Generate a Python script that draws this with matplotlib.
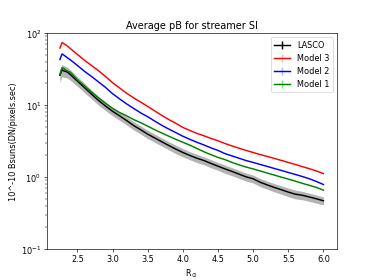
import numpy as np
import matplotlib.pyplot as plt

# radial distance (R_sun)
r = [2.25, 2.28, 2.30, 2.35, 2.40, 2.50, 2.60, 2.70, 2.80, 2.90,
     3.00, 3.10, 3.20, 3.30, 3.40, 3.50, 3.60, 3.70, 3.80, 3.90,
     4.00, 4.10, 4.20, 4.30, 4.40, 4.50, 4.60, 4.70, 4.80, 4.90,
     5.00, 5.10, 5.20, 5.30, 5.40, 5.50, 5.60, 5.70, 5.80, 5.90, 6.00]

lasco = [26, 31, 30, 29, 26.5, 21.5, 17.5, 14.2, 11.6, 9.7,
         8.2, 7.1, 6.1, 5.2, 4.55, 3.95, 3.5, 3.1, 2.75, 2.45,
         2.2, 2.0, 1.83, 1.7, 1.55, 1.42, 1.3, 1.2, 1.1, 1.01,
         0.95, 0.85, 0.78, 0.72, 0.67, 0.62, 0.58, 0.56, 0.53, 0.50, 0.47]
lasco_err = [5.5, 6.0, 5.6, 5.0, 4.4, 3.3, 2.6, 2.0, 1.6, 1.3,
             1.1, 0.95, 0.8, 0.68, 0.6, 0.52, 0.46, 0.4, 0.36, 0.33,
             0.29, 0.26, 0.24, 0.22, 0.2, 0.18, 0.17, 0.155, 0.14, 0.13,
             0.12, 0.11, 0.1, 0.095, 0.09, 0.085, 0.08, 0.075, 0.07, 0.065, 0.06]

model3 = [62, 74, 72, 67, 61, 50.5, 42, 35.5, 30, 25,
          20.5, 17.3, 14.6, 12.6, 11, 9.6, 8.3, 7.2, 6.3, 5.6,
          4.9, 4.45, 4.05, 3.75, 3.45, 3.2, 2.93, 2.71, 2.52, 2.35,
          2.2, 2.06, 1.94, 1.82, 1.71, 1.6, 1.5, 1.4, 1.31, 1.22, 1.12]

model2 = [43, 51.5, 50, 46, 42.5, 35.5, 29.5, 25, 21, 17.6,
          14.4, 12.2, 10.4, 9.0, 7.8, 6.9, 6.0, 5.25, 4.65, 4.15,
          3.7, 3.35, 3.05, 2.8, 2.55, 2.35, 2.12, 1.97, 1.83, 1.7,
          1.6, 1.5, 1.41, 1.32, 1.24, 1.16, 1.09, 1.02, 0.95, 0.87, 0.79]

model1 = [27, 33, 32.5, 30, 28.5, 22.5, 18.5, 15.2, 12.6, 10.6,
          9.0, 7.9, 7.1, 6.3, 5.7, 5.1, 4.55, 4.1, 3.7, 3.35,
          3.05, 2.78, 2.5, 2.25, 2.05, 1.88, 1.75, 1.6, 1.48, 1.38,
          1.3, 1.22, 1.14, 1.07, 1.0, 0.94, 0.88, 0.82, 0.77, 0.72, 0.66]

r = np.array(r)
lasco = np.array(lasco)
lasco_err = np.array(lasco_err)
no_err = np.zeros(len(r))

fig, ax = plt.subplots(figsize=(6.4, 4.8), dpi=374 / 6.4)

lw = 1.8
ax.fill_between(r, lasco - lasco_err, lasco + lasco_err, color='#b4b4b4', lw=0)
ax.errorbar(r, lasco, yerr=no_err, color='k', ecolor='k', lw=lw, label='LASCO')
ax.errorbar(r, model3, yerr=no_err, color='r', ecolor=(1, 0.5, 0.3, 0.5), lw=lw, label='Model 3')
ax.errorbar(r, model2, yerr=no_err, color='b', ecolor=(0.4, 0.5, 1, 0.5), lw=lw, label='Model 2')
ax.errorbar(r, model1, yerr=no_err, color='g', ecolor=(0.3, 0.9, 0.3, 0.8), lw=lw, label='Model 1')

ax.set_yscale('log')
ax.set_ylim(0.1, 100)
ax.set_title('Average pB for streamer SI')
ax.set_xlabel(r'R$_\odot$')
ax.set_ylabel('10^-10 Bsuns(DN/pixels.sec)')
ax.legend(loc='upper right')

plt.savefig('out.png')
